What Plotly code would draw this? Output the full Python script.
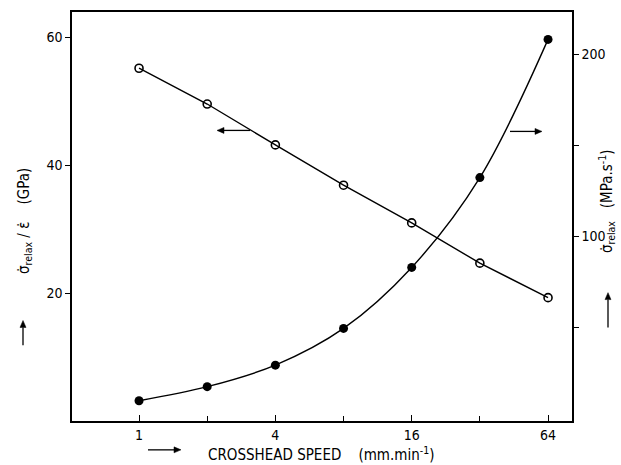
import math
import plotly.graph_objects as go

speed = [1, 2, 4, 8, 16, 32, 64]
modulus_gpa = [55.2, 49.6, 43.2, 36.9, 31.0, 24.7, 19.3]
rate_mpa_s = [10.1, 17.8, 29.6, 49.7, 83.1, 132.3, 208.0]

x_tickvals = [1, 4, 16, 64]
x_ticktext = ["1", "4", "16", "64"]
x_minor = [2, 8, 32]
y1_tickvals = [20, 40, 60]
y2_tickvals = [100, 200]
y2_minor = [50, 150]

FONT = "DejaVu Sans Condensed, Liberation Sans Narrow, Roboto Condensed, Arial Narrow, DejaVu Sans, sans-serif"

fig = go.Figure()
fig.add_trace(go.Scatter(
    x=speed, y=modulus_gpa, mode="lines+markers",
    line=dict(color="black", width=1.4),
    marker=dict(symbol="circle-open", size=8, color="black", line=dict(width=1.6)),
    showlegend=False, yaxis="y"))
fig.add_trace(go.Scatter(
    x=speed, y=rate_mpa_s, mode="lines+markers",
    line=dict(color="black", width=1.4, shape="spline", smoothing=1.0),
    marker=dict(symbol="circle", size=9, color="black"),
    showlegend=False, yaxis="y2"))

fig.update_layout(
    width=621, height=465,
    margin=dict(l=72, r=49, t=10, b=44),
    paper_bgcolor="white", plot_bgcolor="white",
    font=dict(family=FONT, size=14, color="black"),
    xaxis=dict(type="log", range=[-0.296, 1.912], tickvals=x_tickvals, ticktext=x_ticktext,
               ticks="inside", ticklen=6, tickwidth=1.2, tickcolor="black",
               minor=dict(tickvals=x_minor, ticks="inside", ticklen=5, tickwidth=1.2,
                          tickcolor="black", showgrid=False),
               showline=True, linecolor="black", linewidth=1.5, mirror=True,
               showgrid=False, zeroline=False, tickfont=dict(size=14)),
    yaxis=dict(range=[0, 64], tickvals=y1_tickvals, ticks="outside", ticklen=5,
               tickwidth=1.2, tickcolor="black", showline=True, linecolor="black",
               linewidth=1.5, showgrid=False, zeroline=False, tickfont=dict(size=14)),
    yaxis2=dict(range=[-1, 223], overlaying="y", side="right", tickvals=y2_tickvals,
                ticks="outside", ticklen=5, tickwidth=1.2, tickcolor="black",
                minor=dict(tickvals=y2_minor, ticks="outside", ticklen=5, tickwidth=1.2,
                           tickcolor="black", showgrid=False),
                showline=True, linecolor="black", linewidth=1.5,
                showgrid=False, zeroline=False, tickfont=dict(size=14)),
)

W_PLOT, H_PLOT, L0, B0 = 500.0, 411.0, 72.0, 421.0

def px(xp):
    return (xp - L0) / W_PLOT

def py(yp):
    return (B0 - yp) / H_PLOT

shapes = []

def arrow(x0, y0, x1, y1, head=7.0, half=3.0):
    """Arrow from pixel (x0,y0) to head at pixel (x1,y1)."""
    dx, dy = x1 - x0, y1 - y0
    d = math.hypot(dx, dy)
    ux, uy = dx / d, dy / d
    bx, by = x1 - ux * head, y1 - uy * head
    nx, ny = -uy, ux
    shapes.append(dict(type="line", xref="paper", yref="paper",
                       x0=px(x0), y0=py(y0), x1=px(bx), y1=py(by),
                       line=dict(color="black", width=1.3)))
    p1 = (px(x1), py(y1))
    p2 = (px(bx + nx * half), py(by + ny * half))
    p3 = (px(bx - nx * half), py(by - ny * half))
    shapes.append(dict(type="path", xref="paper", yref="paper",
                       path=f"M {p1[0]} {p1[1]} L {p2[0]} {p2[1]} L {p3[0]} {p3[1]} Z",
                       fillcolor="black", line=dict(color="black", width=0.5)))

# pointer arrows inside the plot
arrow(250, 129, 217, 129)
arrow(510, 130, 542, 130)
# axis-title arrows
arrow(23, 345, 23, 320)
arrow(608, 327, 608, 292)
arrow(148, 450, 181, 450)

ann = []
ann.append(dict(x=px(25), y=py(220), xref="paper", yref="paper", showarrow=False,
                text="σ̇<sub>relax</sub> / ε̇    (GPa)", textangle=-90,
                font=dict(size=15), xanchor="center", yanchor="middle"))
ann.append(dict(x=px(606), y=py(200), xref="paper", yref="paper", showarrow=False,
                text="σ̇<sub>relax</sub>   (MPa.s<sup>-1</sup>)", textangle=-90,
                font=dict(size=15), xanchor="center", yanchor="middle"))
ann.append(dict(x=px(321), y=py(454), xref="paper", yref="paper", showarrow=False,
                text="CROSSHEAD SPEED    (mm.min<sup>-1</sup>)",
                font=dict(size=15), xanchor="center", yanchor="middle"))

fig.update_layout(annotations=ann, shapes=shapes)
fig.write_html("out.html")
